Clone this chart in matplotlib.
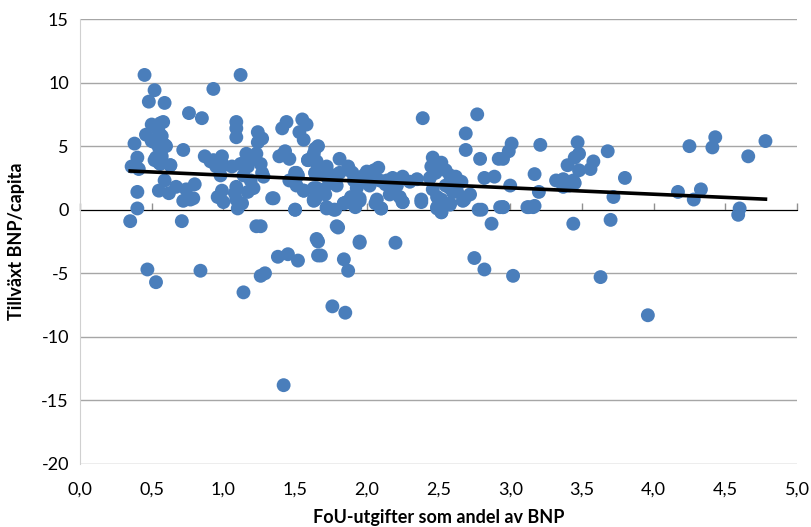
import numpy as np
import matplotlib
matplotlib.use('Agg')
import matplotlib.pyplot as plt
from matplotlib.ticker import FuncFormatter

# R&D spending (% of GDP) vs GDP/capita growth
fou = [
    0.35, 0.71, 0.38, 0.40, 0.36, 0.41, 0.40, 0.40, 0.45, 0.47, 0.48, 0.52, 0.50, 0.46,
    0.50, 0.52, 0.55, 0.57, 0.56, 0.58, 0.59, 0.56, 0.53, 0.56, 0.55, 0.63, 0.59, 0.53,
    0.51, 0.55, 0.60, 0.52, 0.57, 0.56, 0.63, 0.72, 0.59, 0.55, 0.62, 0.67, 0.74, 0.80,
    0.72, 0.77, 0.79, 0.76, 0.85, 0.93, 0.84, 0.87, 0.93, 0.99, 0.91, 0.95, 1.00, 1.06,
    0.98, 1.09, 1.08, 1.09, 1.13, 1.10, 0.96, 1.00, 0.99, 1.12, 1.16, 1.20, 1.23, 1.26,
    1.27, 1.17, 1.14, 1.19, 1.21, 1.17, 1.35, 1.23, 1.12, 1.09, 1.09, 1.09, 1.24, 1.27,
    1.24, 1.14, 1.26, 1.28, 1.29, 1.38, 1.45, 1.52, 1.42, 1.41, 1.44, 1.55, 1.58, 1.53,
    1.56, 1.39, 1.43, 1.46, 1.50, 1.52, 1.46, 1.51, 1.56, 1.63, 1.50, 1.59, 1.64, 1.65,
    1.64, 1.65, 1.65, 1.66, 1.66, 1.63, 1.59, 1.65, 1.72, 1.81, 1.87, 1.88, 1.81, 1.77,
    1.72, 1.64, 1.51, 1.48, 1.56, 1.63, 1.64, 1.71, 1.72, 1.78, 1.84, 1.89, 1.95, 1.93,
    1.91, 1.98, 2.05, 2.08, 2.02, 2.09, 2.14, 2.18, 2.25, 2.21, 2.16, 2.23, 2.25, 2.07,
    2.10, 2.02, 1.95, 1.79, 1.74, 1.92, 1.86, 1.34, 1.50, 1.79, 1.26, 1.80, 1.66, 1.68,
    1.95, 1.95, 2.20, 1.84, 1.87, 1.76, 1.85, 1.63, 1.72, 1.77, 1.84, 1.91, 1.95, 2.06,
    2.10, 2.25, 2.38, 2.49, 2.52, 2.58, 2.67, 2.78, 2.95, 3.12, 3.16, 2.39, 2.77, 2.69,
    2.69, 2.79, 2.92, 2.82, 2.89, 2.87, 2.93, 2.46, 2.45, 2.48, 2.44, 2.52, 2.55, 2.58,
    2.62, 2.66, 2.46, 2.49, 2.52, 2.58, 2.63, 2.68, 2.72, 2.38, 2.49, 2.52, 2.58, 2.75,
    2.82, 3.02, 3.01, 2.99, 2.95, 3.21, 3.00, 3.17, 3.20, 2.80, 2.95, 3.13, 3.17, 3.47,
    3.48, 3.45, 3.40, 3.48, 3.58, 3.56, 3.68, 3.32, 3.37, 3.44, 3.45, 3.41, 3.37, 3.72,
    3.80, 3.44, 3.70, 3.63, 3.96, 4.17, 4.28, 4.33, 4.25, 4.41, 4.43, 4.66, 4.78, 4.59,
    4.60, 1.42, 2.13, 2.30, 2.05, 2.55, 1.70, 1.90, 2.00, 2.35, 2.60,
]
tillvaxt = [
    -0.9, -0.9, 5.2, 4.1, 3.4, 3.2, 1.4, 0.1, 10.6, -4.7, 8.5, 9.4, 6.7, 5.9,
    5.4, 5.3, 6.1, 5.8, 6.8, 6.9, 5.1, 4.9, 4.1, 4.3, 3.7, 3.5, 8.4, -5.7,
    5.4, 4.9, 5.0, 3.9, 4.2, 3.6, 3.5, 4.7, 2.3, 1.5, 1.3, 1.8, 1.6, 2.0,
    0.7, 0.8, 0.9, 7.6, 7.2, 9.5, -4.8, 4.2, 3.9, 4.2, 3.8, 3.4, 3.5, 3.4,
    2.7, 1.8, 1.3, 0.8, 0.5, 0.1, 1.0, 0.6, 1.5, 3.6, 4.4, 4.0, 4.4, 3.6,
    2.9, 3.4, 2.7, 2.3, 1.7, 1.4, 0.9, -1.3, 10.6, 6.9, 6.4, 5.7, 6.1, 5.6,
    5.3, -6.5, -5.2, 2.6, -5.0, -3.7, -3.5, -4.0, -13.8, 6.4, 6.9, 7.1, 6.7, 6.1,
    5.5, 4.2, 4.6, 4.0, 2.9, 2.7, 2.3, 1.9, 1.5, 0.8, 0.0, 3.9, 4.8, 3.7,
    2.9, 1.7, -2.3, 5.0, -3.6, 4.4, 3.9, 3.8, 3.4, 4.0, 3.4, 3.1, 2.9, 2.7,
    2.6, 2.9, 2.9, 2.3, 1.5, 1.7, 0.8, 1.2, 0.2, 0.0, 0.5, 1.0, 0.9, 1.7,
    2.3, 2.7, 3.1, 3.3, 2.5, 2.3, 2.3, 2.5, 2.6, 1.9, 1.2, 1.0, 0.6, 0.8,
    0.1, 1.9, 2.1, 1.9, 2.1, 0.2, 0.6, 0.9, 0.0, -1.3, -1.3, -1.4, -2.5, -3.6,
    -2.5, -2.6, -2.6, -3.9, -4.8, -7.6, -8.1, 0.7, 0.1, 0.0, 0.5, 0.4, 0.7, 0.5,
    0.1, 0.6, 0.6, 0.1, -0.2, 0.4, 0.7, 0.0, 0.2, 0.2, 0.2, 7.2, 7.5, 6.0,
    4.7, 4.0, 4.0, 2.5, 2.6, -1.1, 0.2, 4.1, 3.4, 2.9, 2.5, 3.7, 3.1, 2.7,
    2.6, 2.2, 1.6, 1.0, 0.8, 0.5, 1.4, 0.8, 1.2, 0.8, 0.2, -0.2, 1.7, -3.8,
    -4.7, -5.2, 5.2, 4.6, 4.0, 5.1, 1.9, 2.8, 1.4, 0.0, 0.2, 0.2, 0.3, 5.3,
    4.4, 4.1, 3.5, 3.1, 3.8, 3.2, 4.6, 2.3, 2.4, 2.3, 2.1, 1.9, 1.8, 1.0,
    2.5, -1.1, -0.8, -5.3, -8.3, 1.4, 0.8, 1.6, 5.0, 4.9, 5.7, 4.2, 5.4, -0.4,
    0.1, 4.4, 2.0, 2.2, 2.9, 1.9, 1.6, 2.9, 3.0, 2.4, 1.4,
]

# linear trend line as drawn in the original
trend_slope = -0.50
trend_intercept = 3.22

x_ticks = [0.0, 0.5, 1.0, 1.5, 2.0, 2.5, 3.0, 3.5, 4.0, 4.5, 5.0]
y_ticks = [-20, -15, -10, -5, 0, 5, 10, 15]

plt.rcParams['font.family'] = ['Lato', 'DejaVu Sans']
plt.rcParams['axes.unicode_minus'] = False

fig = plt.figure(figsize=(8.12, 5.27), dpi=100)
ax = fig.add_axes([80 / 812, 1 - 464 / 527, 717 / 812, 445 / 527])

grid_col = '#a6a6a6'
for yv in y_ticks:
    ax.axhline(yv, color=grid_col, lw=1.0, zorder=0)

ax.scatter(fou, tillvaxt, s=100, color='#4a7ebb', edgecolors='none', zorder=2)

xt = np.array([min(fou), max(fou)])
ax.plot(xt, trend_intercept + trend_slope * xt, color='black', lw=2.6, zorder=3)

ax.set_xlim(0, 5)
ax.set_ylim(-20, 15)
ax.set_xticks(x_ticks)
ax.set_yticks(y_ticks)
ax.xaxis.set_major_formatter(FuncFormatter(lambda v, p: f"{v:.1f}".replace('.', ',')))
ax.tick_params(axis='x', length=0, pad=13, labelsize=13)
ax.tick_params(axis='y', length=0, pad=8, labelsize=13)

for s in ['top', 'right', 'bottom']:
    ax.spines[s].set_visible(False)
ax.spines['left'].set_color('#d0d0d0')

# horizontal axis crossing at y = 0 with downward ticks
sec = ax.secondary_xaxis(20 / 35)
sec.set_xticks(x_ticks)
sec.set_xticklabels([])
sec.tick_params(direction='out', length=5, color='#909090', width=1)
sec.spines['bottom'].set_color('#909090')

ax.set_xlabel('FoU-utgifter som andel av BNP', fontsize=13, fontweight='bold', labelpad=8)
ax.set_ylabel('Tillväxt BNP/capita', fontsize=13, fontweight='bold', labelpad=12)

fig.savefig('out.png', dpi=100)
